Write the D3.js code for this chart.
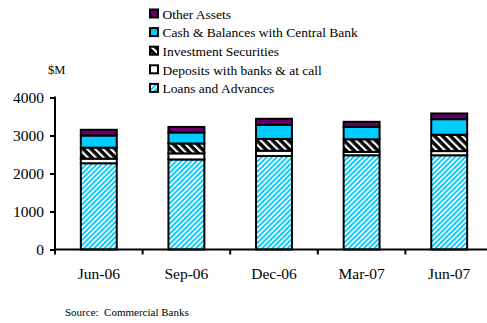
<!DOCTYPE html>
<html>
<head>
<meta charset="utf-8">
<script src="https://cdn.jsdelivr.net/npm/d3@7/dist/d3.min.js"></script>
<style>
  html, body { margin: 0; padding: 0; background: #fff; }
  svg { display: block; font-family: "Liberation Serif", "Times New Roman", serif; }
</style>
</head>
<body>
<svg id="chart" width="487" height="323"></svg>
<script>
// Quarter-end dates
const categories = ["Jun-06", "Sep-06", "Dec-06", "Mar-07", "Jun-07"];

// Asset components, $M (stacked bottom to top)
const loansAndAdvances   = [2270, 2370, 2460, 2480, 2480];
const depositsWithBanks  = [120, 160, 140, 90, 110];
const investmentSecs     = [290, 260, 310, 330, 430];
const cashCentralBank    = [320, 290, 370, 330, 410];
const otherAssets        = [150, 145, 160, 130, 150];

const yTicks = [0, 1000, 2000, 3000, 4000];

const seriesKeys = ["loans", "deposits", "invest", "cash", "other"];
const seriesNames = {
  other: "Other Assets",
  cash: "Cash & Balances with Central Bank",
  invest: "Investment Securities",
  deposits: "Deposits with banks & at call",
  loans: "Loans and Advances"
};

const rows = categories.map((c, i) => ({
  cat: c,
  loans: loansAndAdvances[i],
  deposits: depositsWithBanks[i],
  invest: investmentSecs[i],
  cash: cashCentralBank[i],
  other: otherAssets[i]
}));

const svg = d3.select("#chart");
const defs = svg.append("defs");

// Cyan "/" hatching for loans
const pLoans = defs.append("pattern")
  .attr("id", "hatchLoans").attr("patternUnits", "userSpaceOnUse")
  .attr("width", 3.6).attr("height", 3.6)
  .attr("patternTransform", "rotate(45)");
pLoans.append("rect").attr("width", 3.6).attr("height", 3.6).attr("fill", "#fff");
pLoans.append("rect").attr("x", 0).attr("width", 1.9).attr("height", 3.6).attr("fill", "#00ccff");

// White "\" hatching on black for investment securities
const pInv = defs.append("pattern")
  .attr("id", "hatchInv").attr("patternUnits", "userSpaceOnUse")
  .attr("width", 5.6).attr("height", 5.6)
  .attr("patternTransform", "rotate(-45)");
pInv.append("rect").attr("width", 5.6).attr("height", 5.6).attr("fill", "#000");
pInv.append("rect").attr("x", 0).attr("width", 2.2).attr("height", 5.6).attr("fill", "#fff");

const fills = {
  loans: "url(#hatchLoans)",
  deposits: "#ffffff",
  invest: "url(#hatchInv)",
  cash: "#00ccff",
  other: "#660066"
};

const x0 = 55, step = 87.6;
const x = d3.scaleBand()
  .domain(categories)
  .range([x0, x0 + step * categories.length])
  .paddingInner(0.59)
  .paddingOuter(0.295);

const y = d3.scaleLinear().domain([0, 4000]).range([249.5, 97.5]);

const stacked = d3.stack().keys(seriesKeys)(rows);

// Bars
const g = svg.append("g");
stacked.forEach(layer => {
  g.selectAll(null)
    .data(layer)
    .enter().append("rect")
    .attr("x", d => x(d.data.cat))
    .attr("width", x.bandwidth())
    .attr("y", d => y(d[1]))
    .attr("height", d => y(d[0]) - y(d[1]))
    .attr("fill", fills[layer.key])
    .attr("stroke", "#000")
    .attr("stroke-width", 2);
});

// Y axis
const yAxis = d3.axisLeft(y).tickValues(yTicks).tickSize(5).tickPadding(6).tickFormat(d3.format("d"));
const gy = svg.append("g").attr("transform", `translate(${x0},0)`).call(yAxis);
gy.select(".domain").attr("stroke-width", 2).attr("d", `M0,${y(4000) - 1}V${y(0) + 4}`);
gy.selectAll(".tick line").attr("stroke-width", 2);
gy.selectAll(".tick text").attr("font-size", 15.5).attr("font-family", "Liberation Serif").attr("fill", "#000");

// X axis: baseline with ticks between categories
const gx = svg.append("g");
gx.append("line")
  .attr("x1", x0).attr("x2", 487)
  .attr("y1", y(0)).attr("y2", y(0))
  .attr("stroke", "#000").attr("stroke-width", 2);
const bounds = categories.map(c => x(c) - (x.step() - x.bandwidth()) / 2);
gx.selectAll(null).data(bounds).enter().append("line")
  .attr("x1", d => d).attr("x2", d => d)
  .attr("y1", y(0)).attr("y2", y(0) + 5)
  .attr("stroke", "#000").attr("stroke-width", 2);
gx.selectAll(null).data(categories).enter().append("text")
  .attr("x", d => x(d) + x.bandwidth() / 2)
  .attr("y", 273.5)
  .attr("dy", "0.35em")
  .attr("text-anchor", "middle")
  .attr("font-size", 15.5)
  .text(d => d);

// Unit label
svg.append("text").attr("x", 48).attr("y", 70).attr("dy", "0.35em")
  .attr("font-size", 12.5).text("$M");

// Legend (top entry = top of stack)
const legendKeys = ["other", "cash", "invest", "deposits", "loans"];
const lg = svg.append("g");
legendKeys.forEach((k, i) => {
  const cy = 14 + i * 18.6;
  lg.append("rect")
    .attr("x", 150).attr("y", cy - 4.5).attr("width", 8).attr("height", 8)
    .attr("fill", fills[k]).attr("stroke", "#000").attr("stroke-width", 2);
  lg.append("text")
    .attr("x", 162.5).attr("y", cy).attr("dy", "0.35em")
    .attr("font-size", 13.5).text(seriesNames[k]);
});

// Source note
svg.append("text").attr("x", 65).attr("y", 312).attr("dy", "0.35em")
  .attr("font-size", 11).attr("xml:space", "preserve")
  .text("Source:  Commercial Banks");
</script>
</body>
</html>
